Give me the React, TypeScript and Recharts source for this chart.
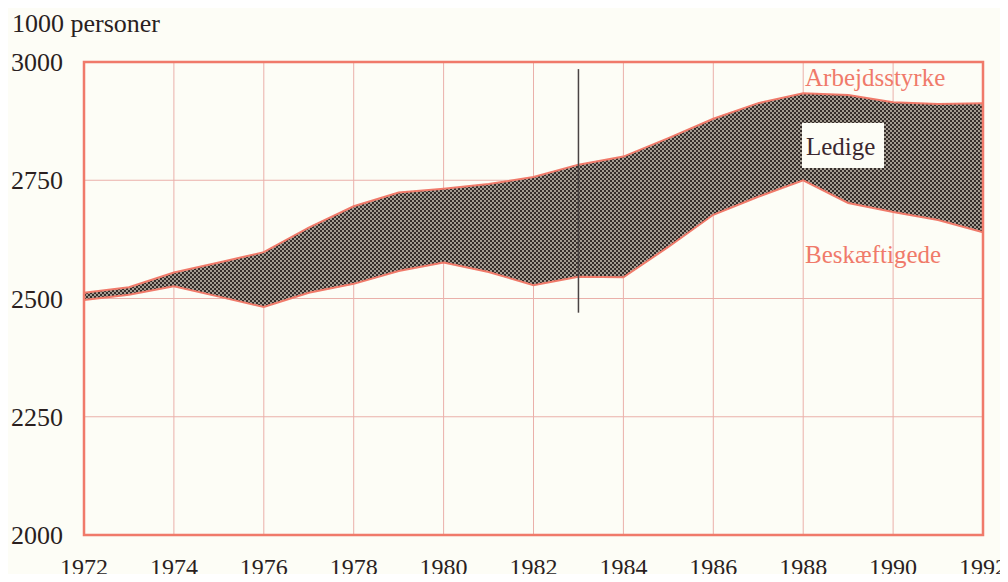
import React from 'react';
import { ComposedChart, Area, Line, XAxis, YAxis, CartesianGrid, ReferenceArea, ReferenceLine } from 'recharts';

const years = [1972, 1973, 1974, 1975, 1976, 1977, 1978, 1979, 1980, 1981, 1982, 1983, 1984, 1985, 1986, 1987, 1988, 1989, 1990, 1991, 1992];
const arbejdsstyrke = [2512, 2524, 2555, 2576, 2598, 2650, 2695, 2724, 2732, 2742, 2757, 2783, 2800, 2839, 2880, 2913, 2934, 2930, 2915, 2911, 2913];
const beskaeftigede = [2497, 2508, 2526, 2504, 2482, 2512, 2531, 2558, 2576, 2556, 2528, 2546, 2545, 2609, 2677, 2715, 2750, 2702, 2683, 2666, 2640];
const xTicks = [1972, 1974, 1976, 1978, 1980, 1982, 1984, 1986, 1988, 1990, 1992];
const yTicks = [2000, 2250, 2500, 2750, 3000];

const SERIF = '"Liberation Serif", "DejaVu Serif", serif';
const SALMON = '#f07a6a';
const GRID = '#eab0aa';
const INK = '#2a1f1f';

const data = years.map((year, i) => ({
  year,
  upper: arbejdsstyrke[i],
  lower: beskaeftigede[i],
  band: [beskaeftigede[i], arbejdsstyrke[i]],
}));

const labelStyle: React.CSSProperties = {
  position: 'absolute',
  fontFamily: SERIF,
  fontSize: 25,
  lineHeight: '25px',
  whiteSpace: 'nowrap',
};

export default function App() {
  return (
    <div style={{ position: 'relative', width: 1008, height: 582, margin: -8, background: '#fdfdf6', overflow: 'hidden' }}>
      <div style={{ ...labelStyle, left: 12, top: 11, fontSize: 26, color: INK }}>1000 personer</div>
      <ComposedChart width={1008} height={582} data={data} margin={{ top: 62, right: 25, bottom: 0, left: 0 }}>
        <defs>
          <pattern id="dots" width="4" height="4" patternUnits="userSpaceOnUse">
            <rect width="4" height="4" fill="#352d2a" />
            <circle cx="1" cy="1" r="0.9" fill="#d9d2c4" />
            <circle cx="3" cy="3" r="0.9" fill="#d9d2c4" />
          </pattern>
        </defs>
        <CartesianGrid stroke={GRID} strokeWidth={1} />
        <XAxis
          dataKey="year"
          type="number"
          domain={[1972, 1992]}
          ticks={xTicks}
          height={47}
          axisLine={false}
          tickLine={false}
          tickSize={0}
          tickMargin={23}
          tick={{ fill: INK, fontSize: 24, fontFamily: SERIF }}
          interval={0}
        />
        <YAxis
          type="number"
          domain={[2000, 3000]}
          ticks={yTicks}
          width={84}
          axisLine={false}
          tickLine={false}
          tickSize={0}
          tickMargin={21}
          tick={{ fill: INK, fontSize: 26, fontFamily: SERIF }}
          interval={0}
        />
        <Area
          dataKey="band"
          type="linear"
          stroke="none"
          fill="url(#dots)"
          fillOpacity={1}
          isAnimationActive={false}
        />
        <Line dataKey="upper" type="linear" stroke={SALMON} strokeWidth={2} dot={false} isAnimationActive={false} />
        <Line dataKey="lower" type="linear" stroke={SALMON} strokeWidth={2} dot={false} isAnimationActive={false} />
        <ReferenceArea x1={1972} x2={1992} y1={2000} y2={3000} fill="none" stroke={SALMON} strokeWidth={2.5} ifOverflow="visible" />
        <ReferenceLine
          segment={[{ x: 1983, y: 2985 }, { x: 1983, y: 2470 }]}
          stroke="#4a4444"
          strokeWidth={1.5}
        />
      </ComposedChart>
      <div style={{ ...labelStyle, left: 805, top: 65, color: SALMON }}>Arbejdsstyrke</div>
      <div style={{ position: 'absolute', left: 802, top: 123, width: 82, height: 45, background: '#fdfdf6' }} />
      <div style={{ ...labelStyle, left: 806, top: 134, color: '#3b2830' }}>Ledige</div>
      <div style={{ ...labelStyle, left: 805, top: 242, color: SALMON }}>Beskæftigede</div>
    </div>
  );
}
